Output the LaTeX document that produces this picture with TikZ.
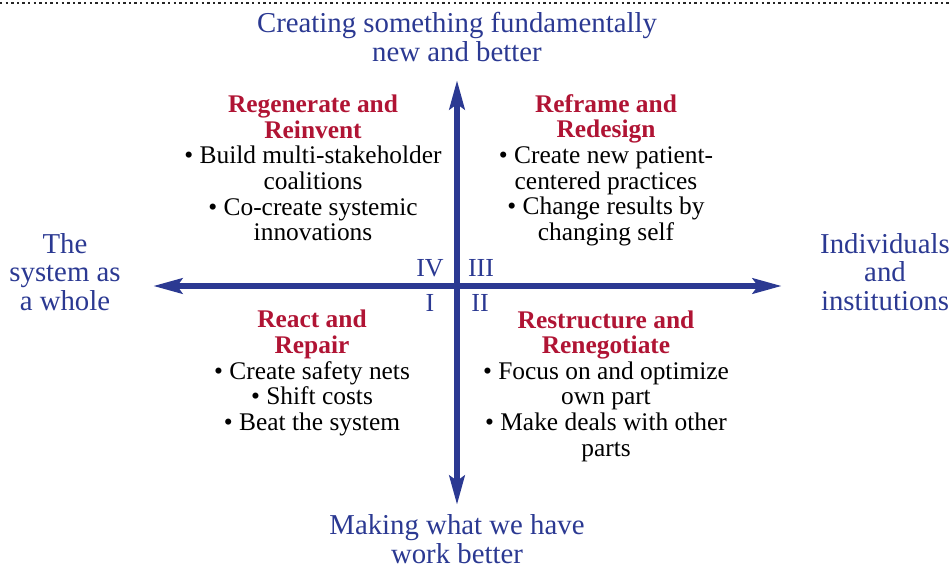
\documentclass[tikz,border=0pt]{standalone}
\usepackage{fontspec}
\setmainfont{Liberation Serif}
\usetikzlibrary{arrows.meta}
\definecolor{axisblue}{RGB}{43,57,146}
\definecolor{headred}{RGB}{176,20,52}
\tikzset{
  axis/.style={draw=axisblue, line width=3pt,
    {Stealth[length=14.5pt,width=7.5pt,inset=2.5pt]}-{Stealth[length=14.5pt,width=7.5pt,inset=2.5pt]}},
  pole/.style={text=axisblue, align=center, inner sep=0pt, font=\fontsize{14.4}{14.2}\selectfont},
  quad/.style={align=center, inner sep=0pt, font=\fontsize{12.7}{12.8}\selectfont},
  roman/.style={text=axisblue, inner sep=0pt, font=\fontsize{13}{13}\selectfont},
}
\newcommand{\heading}[1]{{\color{headred}\bfseries #1}}
\begin{document}
\begin{tikzpicture}[x=0.5pt, y=-0.5pt, line cap=butt]
	\useasboundingbox (0,0) rectangle (952,567);
	% dotted rule along the top
	\draw[black!85, line width=1.2pt, dash pattern=on 1.2pt off 1.6pt] (0,3)--(952,3);
	% the two axes
	\coordinate (west) at (153,286);
	\coordinate (east) at (782,286);
	\coordinate (north) at (457,80);
	\coordinate (south) at (457,505);
	\draw[axis] (west)--(east);
	\draw[axis] (south)--(north);
	% ends of the axes
	\path
	(457,37) node[pole] (top) {Creating something fundamentally\\new and better}
	(457,539) node[pole] (bottom) {Making what we have\\work better}
	(65,272) node[pole] (left) {The\\system as\\a whole}
	(885,272) node[pole] (right) {Individuals\\and\\institutions}
	;
	% quadrant numbers
	\path
	(430,268) node[roman] (q4) {IV}
	(481,268) node[roman] (q3) {III}
	(430,303) node[roman] (q1) {I}
	(480,303) node[roman] (q2) {II}
	;
	% quadrant texts
	\path
	(313,168) node[quad] (regen) {\heading{Regenerate and}\\\heading{Reinvent}\\
		\textbullet{} Build multi-stakeholder\\coalitions\\
		\textbullet{} Co-create systemic\\innovations}
	(606,170) node[quad] (reframe) {\heading{Reframe and}\\\heading{Redesign}\\
		\textbullet{} Create new patient-\\centered practices\\
		\textbullet{} Change results by\\changing self}
	(312,373) node[quad] (react) {\heading{React and}\\\heading{Repair}\\
		\textbullet{} Create safety nets\\\textbullet{} Shift costs\\
		\textbullet{} Beat the system}
	(606,386) node[quad] (restruct) {\heading{Restructure and}\\\heading{Renegotiate}\\
		\textbullet{} Focus on and optimize\\own part\\
		\textbullet{} Make deals with other\\parts}
	;
\end{tikzpicture}
\end{document}
